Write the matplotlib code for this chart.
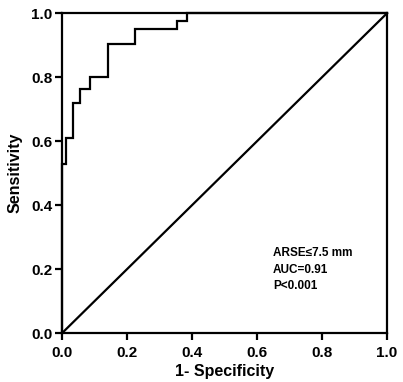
import matplotlib
matplotlib.use("Agg")
import matplotlib.pyplot as plt

plt.rcParams['font.family'] = ['Liberation Sans', 'DejaVu Sans']

# ROC curve points (1-specificity, sensitivity), step-wise
fpr = [0.0, 0.0, 0.012, 0.012, 0.034, 0.034, 0.056, 0.056, 0.087, 0.087,
       0.141, 0.141, 0.225, 0.225, 0.355, 0.355, 0.384, 0.384, 1.0]
tpr = [0.0, 0.529, 0.529, 0.609, 0.609, 0.719, 0.719, 0.764, 0.764, 0.800,
       0.800, 0.904, 0.904, 0.950, 0.950, 0.976, 0.976, 1.0, 1.0]
ref_line = [0.0, 1.0]
ticks = [0.0, 0.2, 0.4, 0.6, 0.8, 1.0]
tick_labels = ["0.0", "0.2", "0.4", "0.6", "0.8", "1.0"]
annot_lines = ["ARSE\u22647.5 mm", "AUC=0.91", "P<0.001"]

fig = plt.figure(figsize=(4.03, 3.82), dpi=100)
ax = fig.add_axes([0.154, 0.128, 0.806, 0.837])

ax.plot(fpr, tpr, color='black', lw=1.6, solid_joinstyle='miter', clip_on=False)
ax.plot(ref_line, ref_line, color='black', lw=1.6, clip_on=False)

ax.set_xlim(0, 1)
ax.set_ylim(0, 1)
ax.set_xticks(ticks)
ax.set_yticks(ticks)
ax.set_xticklabels(tick_labels, fontsize=11, fontweight='bold')
ax.set_yticklabels(tick_labels, fontsize=11, fontweight='bold')
ax.tick_params(direction='out', length=5, width=1.6)
ax.tick_params(axis='x', pad=4)
ax.tick_params(axis='y', pad=2)

for s in ax.spines.values():
    s.set_linewidth(1.6)

ax.set_xlabel("1- Specificity", fontsize=11.5, fontweight='bold', labelpad=3)
ax.set_ylabel("Sensitivity", fontsize=11.5, fontweight='bold', labelpad=6)

ys = [0.25, 0.198, 0.146]
for txt, y in zip(annot_lines, ys):
    ax.text(0.65, y, txt, fontsize=8.5, fontweight='bold', ha='left', va='center',
            transform=ax.transData)

fig.savefig("out.png", dpi=100)
